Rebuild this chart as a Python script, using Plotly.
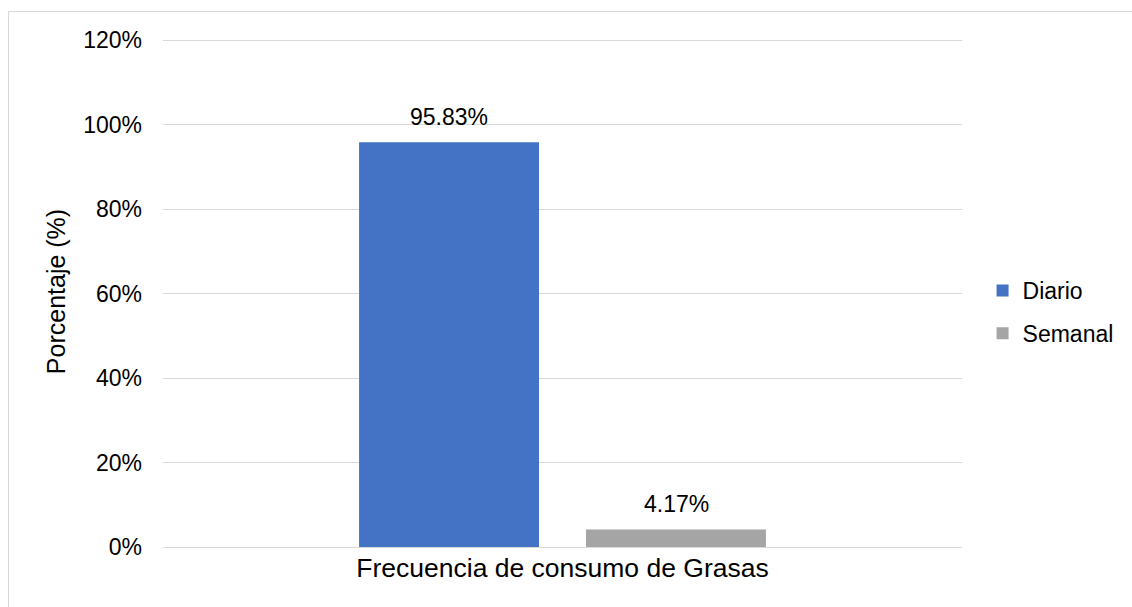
import plotly.graph_objects as go

categories = ["Frecuencia de consumo de Grasas"]
series_names = ["Diario", "Semanal"]
values = [0.9583, 0.0417]
labels = ["95.83%", "4.17%"]
colors = ["#4472C4", "#A5A5A5"]

FONT = "Liberation Sans, Arial, sans-serif"

fig = go.Figure()
for i, (name, v, c) in enumerate(zip(series_names, values, colors)):
    fig.add_trace(go.Bar(
        x=categories, y=[v], name=name, marker=dict(color=c, line=dict(width=0)),
        legendgroup=name, hoverinfo="skip",
    ))

shifts = [-113.5, 113.5]
for v, lab, s in zip(values, labels, shifts):
    fig.add_annotation(x=categories[0], y=v, xref="x", yref="y", text=lab,
                       showarrow=False, xshift=s, yshift=25, yanchor="middle",
                       font=dict(family=FONT, size=23, color="#000000"))

# plot area: y=0 at 547px, 1.21 at 36px (511px tall)
fig.add_shape(type="rect", xref="paper", yref="paper",
              x0=(8.5 - 163) / 799, x1=(1150 - 163) / 799,
              y0=(547 - 640) / 511, y1=(547 - 11.5) / 511,
              line=dict(color="#d9d9d9", width=1), fillcolor="rgba(0,0,0,0)", layer="below")

fig.update_layout(
    width=1132, height=607,
    margin=dict(l=163, r=170, t=36, b=60, autoexpand=False),
    paper_bgcolor="white", plot_bgcolor="white",
    barmode="group", bargap=0.432, bargroupgap=0.207,
    font=dict(family=FONT, size=23, color="#000000"),
    showlegend=True,
    legend=dict(xref="container", yref="container", x=0.868, y=1 - 312 / 607,
                xanchor="left", yanchor="middle", tracegroupgap=10,
                font=dict(family=FONT, size=23, color="#000000"),
                bgcolor="rgba(0,0,0,0)"),
    xaxis=dict(showgrid=False, showline=False, ticks="", ticklabelstandoff=2,
               tickfont=dict(family=FONT, size=26.5, color="#000000")),
    yaxis=dict(range=[0, 1.21], tickvals=[0, 0.2, 0.4, 0.6, 0.8, 1.0, 1.2],
               tickformat=".0%", showgrid=True,
               gridcolor="#d9d9d9", gridwidth=1, zeroline=True, zerolinecolor="#d9d9d9",
               zerolinewidth=1, showline=False, ticks="", ticklabelstandoff=20,
               tickfont=dict(family=FONT, size=23, color="#000000"),
               title=dict(text="Porcentaje (%)", standoff=10,
                          font=dict(family=FONT, size=25, color="#000000"))),
)

fig.write_html("out.html")
